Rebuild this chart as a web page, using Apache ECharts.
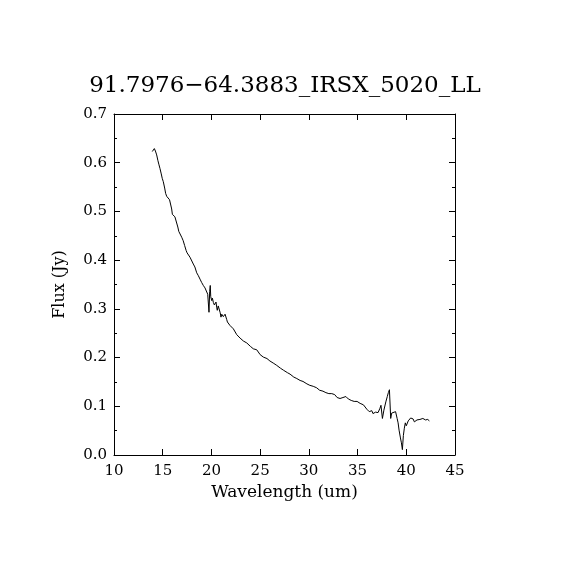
<!doctype html>
<html lang="en">

<head>
    <meta charset="UTF-8" />
    <title>91.7976-64.3883_IRSX_5020_LL</title>
    <style>
        html, body { margin: 0; padding: 0; background: #fff; }
    </style>
</head>

<body>
    <div id="spec" style="width:570px;height:570px"></div>

    <script src="https://cdn.jsdelivr.net/npm/echarts/dist/echarts.min.js"></script>
    <script type="text/javascript">
        // spectrum: wavelength (um) and flux (Jy)
        var wavelength = [
            13.93, 14.05, 14.14, 14.25, 14.38, 14.5, 14.6, 14.72, 14.85, 14.95,
            15.06, 15.2, 15.3, 15.41, 15.55, 15.7, 15.85, 15.92, 15.99, 16.1,
            16.25, 16.43, 16.55, 16.65, 16.8, 16.95, 17.1, 17.25, 17.4, 17.5,
            17.65, 17.8, 17.98, 18.14, 18.3, 18.49, 18.66, 18.83, 19.0, 19.17,
            19.34, 19.5, 19.62, 19.7, 19.75, 19.82, 19.88, 19.93, 20.03, 20.1,
            20.2, 20.3, 20.37, 20.47, 20.55, 20.6, 20.7, 20.78, 20.9, 20.98,
            21.06, 21.15, 21.22, 21.3, 21.4, 21.5, 21.57, 21.64, 21.75, 21.9,
            22.08, 22.25, 22.4, 22.6, 22.75, 22.94, 23.1, 23.28, 23.45, 23.63,
            23.8, 24.0, 24.15, 24.3, 24.5, 24.65, 24.8, 25.0, 25.15, 25.33,
            25.5, 25.7, 25.85, 26.0, 26.2, 26.4, 26.55, 26.7, 26.9, 27.1,
            27.25, 27.4, 27.6, 27.8, 27.95, 28.07, 28.25, 28.45, 28.6, 28.76,
            28.95, 29.1, 29.25, 29.4, 29.6, 29.8, 29.95, 30.1, 30.3, 30.45,
            30.6, 30.8, 30.95, 31.1, 31.3, 31.45, 31.6, 31.75, 31.9, 32.05,
            32.2, 32.35, 32.5, 32.65, 32.8, 32.9, 33.05, 33.2, 33.35, 33.5,
            33.65, 33.8, 33.9, 34.05, 34.2, 34.35, 34.5, 34.65, 34.8, 34.95,
            35.1, 35.26, 35.4, 35.6, 35.75, 35.95, 36.1, 36.2, 36.35, 36.46,
            36.58, 36.7, 36.85, 36.96, 37.1, 37.2, 37.3, 37.4, 37.55, 37.7,
            37.9, 38.05, 38.16, 38.27, 38.4, 38.5, 38.6, 38.7, 38.9, 39.06,
            39.16, 39.26, 39.4, 39.5, 39.6, 39.7, 39.8, 39.9, 40.0, 40.1,
            40.2, 40.3, 40.45, 40.56, 40.7, 40.83, 40.95, 41.1, 41.25, 41.4,
            41.55, 41.7, 41.85, 41.97, 42.1, 42.2, 42.37
        ];
        var flux = [
            0.623, 0.626, 0.629, 0.624, 0.616, 0.605, 0.597, 0.588, 0.577, 0.568,
            0.561, 0.548, 0.537, 0.531, 0.528, 0.524, 0.521, 0.505, 0.494, 0.491,
            0.489, 0.486, 0.468, 0.459, 0.455, 0.447, 0.440, 0.430, 0.420, 0.415,
            0.412, 0.406, 0.402, 0.392, 0.386, 0.374, 0.368, 0.361, 0.354, 0.348,
            0.343, 0.340, 0.330, 0.326, 0.293, 0.336, 0.348, 0.325, 0.317, 0.322,
            0.313, 0.308, 0.304, 0.314, 0.302, 0.297, 0.306, 0.310, 0.292, 0.283,
            0.289, 0.290, 0.284, 0.280, 0.289, 0.291, 0.278, 0.273, 0.271, 0.266,
            0.262, 0.259, 0.255, 0.247, 0.243, 0.240, 0.237, 0.234, 0.233, 0.230,
            0.226, 0.223, 0.219, 0.218, 0.218, 0.216, 0.213, 0.206, 0.204, 0.201,
            0.199, 0.198, 0.195, 0.193, 0.190, 0.188, 0.186, 0.184, 0.181, 0.178,
            0.176, 0.174, 0.172, 0.169, 0.167, 0.166, 0.163, 0.160, 0.158, 0.157,
            0.155, 0.153, 0.153, 0.151, 0.148, 0.146, 0.144, 0.143, 0.141, 0.141,
            0.138, 0.138, 0.135, 0.133, 0.134, 0.131, 0.130, 0.128, 0.130, 0.126,
            0.124, 0.126, 0.122, 0.124, 0.120, 0.118, 0.120, 0.116, 0.114, 0.118,
            0.119, 0.120, 0.118, 0.115, 0.114, 0.112, 0.113, 0.110, 0.109, 0.110,
            0.108, 0.106, 0.107, 0.103, 0.099, 0.094, 0.091, 0.089, 0.092, 0.091,
            0.085, 0.082, 0.088, 0.089, 0.087, 0.085, 0.096, 0.102, 0.075, 0.092,
            0.109, 0.120, 0.128, 0.134, 0.075, 0.086, 0.083, 0.082, 0.089, 0.075,
            0.066, 0.051, 0.035, 0.025, 0.011, 0.040, 0.055, 0.066, 0.060, 0.063,
            0.070, 0.073, 0.076, 0.075, 0.074, 0.068, 0.070, 0.072, 0.072, 0.073,
            0.074, 0.075, 0.073, 0.072, 0.074, 0.073, 0.070
        ];
        var xTicks = [10, 45, 5];   // min, max, step
        var yTicks = [0, 0.7, 0.1];

        var spec = [];
        for (var i = 0; i < wavelength.length; i++) {
            spec.push([wavelength[i], flux[i]]);
        }

        var font = 'DejaVu Serif';
        var ink = '#000';

        // shared look of the box edges, ticks point inwards on all four sides
        function edge(extra) {
            var a = {
                type: 'value',
                axisLine: { show: true, onZero: false, lineStyle: { color: ink, width: 1 } },
                axisTick: { show: true, inside: true, length: 6, lineStyle: { color: ink } },
                splitLine: { show: false },
                axisLabel: { show: false }
            };
            for (var k in extra) a[k] = extra[k];
            return a;
        }

        var chart = echarts.init(document.getElementById('spec'), null, { renderer: 'canvas' });
        var option = {
            backgroundColor: '#fff',
            animation: false,
            title: {
                text: '91.7976\u221264.3883_IRSX_5020_LL',
                left: 'center',
                top: 70,
                textStyle: { fontFamily: font, fontSize: 23, fontWeight: 'normal', color: ink }
            },
            grid: { left: 114, top: 114, right: 115, bottom: 115, containLabel: false },
            xAxis: [
                edge({
                    position: 'bottom',
                    min: xTicks[0], max: xTicks[1], interval: xTicks[2],
                    name: 'Wavelength (um)',
                    nameLocation: 'middle',
                    nameGap: 27,
                    nameTextStyle: { fontFamily: font, fontSize: 17, color: ink },
                    axisLabel: { show: true, margin: 9, fontFamily: font, fontSize: 15, color: ink }
                }),
                edge({ position: 'top', min: xTicks[0], max: xTicks[1], interval: xTicks[2] })
            ],
            yAxis: [
                edge({
                    position: 'left',
                    min: yTicks[0], max: yTicks[1], interval: yTicks[2],
                    name: 'Flux (Jy)',
                    nameLocation: 'middle',
                    nameGap: 46,
                    nameRotate: 90,
                    nameTextStyle: { fontFamily: font, fontSize: 16, color: ink },
                    minorTick: { show: true, splitNumber: 2, length: 3, lineStyle: { color: ink } },
                    axisLabel: {
                        show: true, margin: 7, fontFamily: font, fontSize: 15, color: ink,
                        formatter: function (v) { return v.toFixed(1); }
                    }
                }),
                edge({
                    position: 'right',
                    min: yTicks[0], max: yTicks[1], interval: yTicks[2],
                    minorTick: { show: true, splitNumber: 2, length: 3, lineStyle: { color: ink } }
                })
            ],
            series: [{
                name: 'flux',
                type: 'line',
                data: spec,
                showSymbol: false,
                symbol: 'none',
                lineStyle: { color: ink, width: 1 },
                silent: true
            }]
        };
        chart.setOption(option);
    </script>
</body>

</html>
